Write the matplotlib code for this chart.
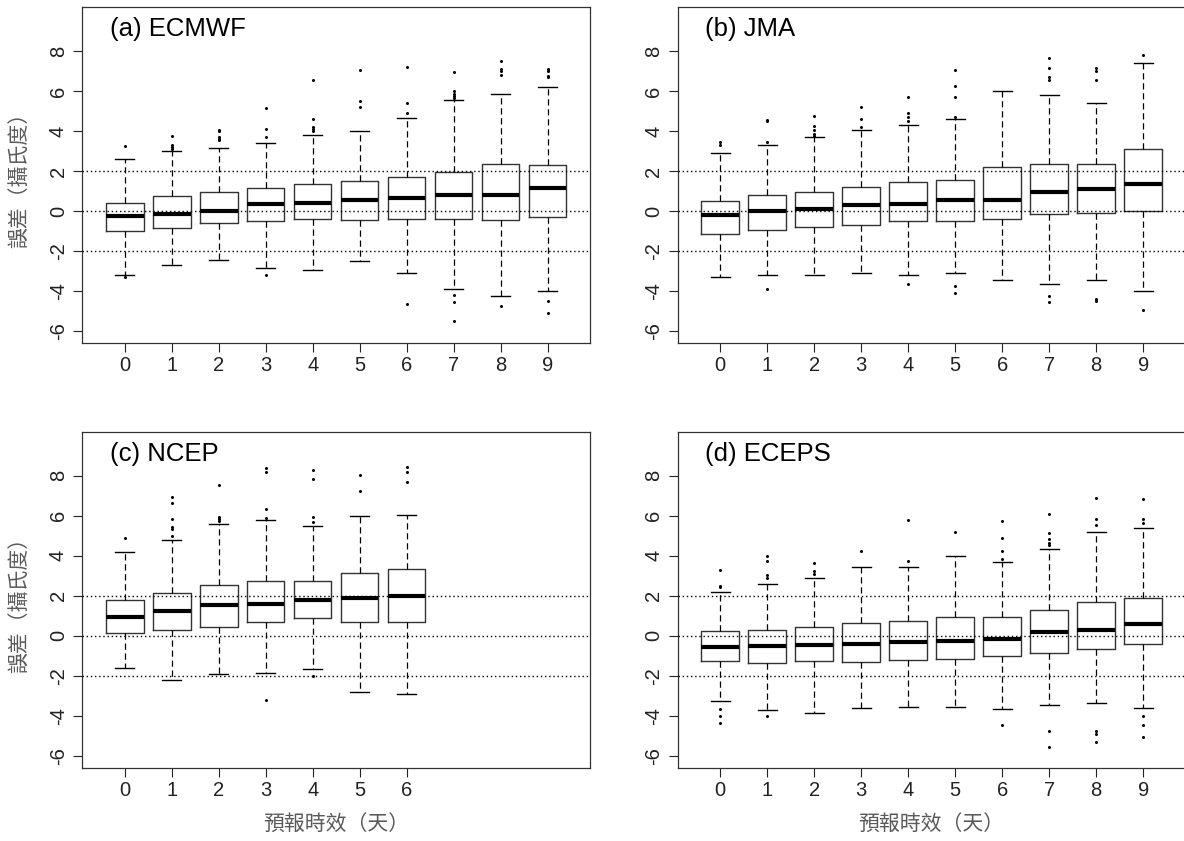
import matplotlib
matplotlib.use("Agg")
import matplotlib.pyplot as plt

plt.rcParams['font.family'] = ['Liberation Sans', 'Noto Sans CJK TC', 'DejaVu Sans']

# 預報時效（天）與 y 軸刻度
lead_days = [0, 1, 2, 3, 4, 5, 6, 7, 8, 9]
y_ticks = [-6, -4, -2, 0, 2, 4, 6, 8]
y_tick_labels = ['-6', '-4', '-2', '0', '2', '4', '6', '8']
ref_lines = [-2, 0, 2]

# (a) ECMWF
ecmwf_med = [-0.27, -0.17, 0.00, 0.33, 0.42, 0.53, 0.65, 0.82, 0.82, 1.17]
ecmwf_q1 = [-1.02, -0.83, -0.58, -0.48, -0.38, -0.43, -0.38, -0.38, -0.43, -0.32]
ecmwf_q3 = [0.40, 0.73, 0.95, 1.15, 1.33, 1.50, 1.70, 1.97, 2.35, 2.30]
ecmwf_lo = [-3.22, -2.68, -2.47, -2.83, -2.93, -2.52, -3.10, -3.92, -4.27, -4.02]
ecmwf_hi = [2.60, 3.00, 3.15, 3.42, 3.80, 4.00, 4.67, 5.57, 5.87, 6.22]
ecmwf_out = [[3.27, -3.30], [3.75, 3.33, 3.20, 3.10], [4.07, 4.00, 3.70, 3.62, 3.57],
             [5.18, 4.12, 3.73, -3.22], [6.57, 4.62, 4.20, 4.12, 4.03], [7.08, 5.53, 5.20],
             [7.23, 5.40, 4.90, -4.67], [6.95, 6.00, 5.88, 5.78, 5.65, -4.18, -4.55, -5.52],
             [7.53, 7.12, 7.00, 6.83, -4.77], [7.12, 7.00, 6.78, 6.70, -4.50, -5.10]]

# (b) JMA
jma_med = [-0.22, 0.00, 0.10, 0.32, 0.37, 0.53, 0.53, 0.97, 1.08, 1.35]
jma_q1 = [-1.13, -0.97, -0.82, -0.72, -0.48, -0.48, -0.38, -0.17, -0.10, 0.00]
jma_q3 = [0.52, 0.78, 0.95, 1.22, 1.43, 1.55, 2.20, 2.35, 2.35, 3.10]
jma_lo = [-3.32, -3.18, -3.18, -3.12, -3.18, -3.12, -3.43, -3.65, -3.43, -3.98]
jma_hi = [2.93, 3.30, 3.70, 4.07, 4.33, 4.60, 6.00, 5.82, 5.40, 7.40]
jma_out = [[3.48, 3.33], [4.57, 4.50, 3.48, -3.92], [4.75, 4.28, 4.07, 3.87, 3.78],
           [5.23, 4.62, 4.20], [5.70, 4.92, 4.73, 4.53, -3.67],
           [7.08, 6.25, 5.70, 4.70, -3.75, -4.08], [],
           [7.67, 7.17, 6.73, 6.57, -4.25, -4.55], [7.17, 7.00, 6.57, -4.38, -4.50],
           [7.82, -4.97]]

# (c) NCEP
ncep_med = [0.92, 1.25, 1.52, 1.58, 1.78, 1.88, 2.00]
ncep_q1 = [0.13, 0.28, 0.43, 0.70, 0.87, 0.70, 0.70]
ncep_q3 = [1.77, 2.13, 2.52, 2.72, 2.72, 3.12, 3.32]
ncep_lo = [-1.60, -2.23, -1.93, -1.87, -1.65, -2.83, -2.90]
ncep_hi = [4.17, 4.78, 5.57, 5.80, 5.47, 6.00, 6.03]
ncep_out = [[4.88], [6.92, 6.62, 5.83, 5.42, 5.33, 5.00], [7.55, 5.92, 5.83, 5.75],
            [8.37, 8.17, 6.33, 5.88, -3.20], [8.30, 7.82, 5.95, 5.67, -2.03],
            [8.03, 7.23], [8.42, 8.20, 7.67]]

# (d) ECEPS
eceps_med = [-0.58, -0.53, -0.47, -0.42, -0.30, -0.25, -0.15, 0.18, 0.28, 0.60]
eceps_q1 = [-1.25, -1.37, -1.25, -1.32, -1.20, -1.17, -1.02, -0.85, -0.68, -0.42]
eceps_q3 = [0.22, 0.27, 0.42, 0.63, 0.75, 0.92, 0.92, 1.28, 1.67, 1.87]
eceps_lo = [-3.25, -3.73, -3.85, -3.62, -3.57, -3.57, -3.68, -3.48, -3.37, -3.62]
eceps_hi = [2.20, 2.58, 2.90, 3.43, 3.43, 3.97, 3.70, 4.35, 5.20, 5.37]
eceps_out = [[3.27, 2.47, 2.42, -3.67, -4.03, -4.38], [4.00, 3.75, 3.03, 2.88, -4.00],
             [3.63, 3.25, 3.08], [4.23], [5.80, 3.75], [5.18],
             [5.75, 4.88, 4.23, 3.82, -4.47], [6.10, 5.15, 4.85, 4.63, 4.55, -4.75, -5.57],
             [6.90, 5.85, 5.52, -4.75, -4.92, -5.32], [6.85, 5.85, 5.63, -4.00, -4.47, -5.08]]

panels = [
    ('(a) ECMWF', ecmwf_med, ecmwf_q1, ecmwf_q3, ecmwf_lo, ecmwf_hi, ecmwf_out),
    ('(b) JMA', jma_med, jma_q1, jma_q3, jma_lo, jma_hi, jma_out),
    ('(c) NCEP', ncep_med, ncep_q1, ncep_q3, ncep_lo, ncep_hi, ncep_out),
    ('(d) ECEPS', eceps_med, eceps_q1, eceps_q3, eceps_lo, eceps_hi, eceps_out),
]

# 版面位置（圖寬 1184 px、高 841 px）
axes_pos = [
    [0.0696, 0.5922, 0.4287, 0.3992],
    [0.5726, 0.5922, 0.4287, 0.3992],
    [0.0696, 0.0872, 0.4287, 0.3995],
    [0.5726, 0.0872, 0.4287, 0.3995],
]

fig = plt.figure(figsize=(11.84, 8.41), dpi=100)
label_color = '#5a5a5a'

for i, (title, med, q1, q3, lo, hi, out) in enumerate(panels):
    ax = fig.add_axes(axes_pos[i])
    n = len(med)
    stats = []
    for k in range(n):
        stats.append({'med': med[k], 'q1': q1[k], 'q3': q3[k],
                      'whislo': lo[k], 'whishi': hi[k], 'fliers': out[k]})
    ax.bxp(stats, positions=lead_days[:n], widths=0.8, capwidths=0.4,
           showfliers=True, manage_ticks=False,
           boxprops=dict(color='#333333', linewidth=1.0),
           medianprops=dict(color='black', linewidth=3.0, solid_capstyle='butt'),
           whiskerprops=dict(color='black', linewidth=0.9, linestyle=(0, (5, 3))),
           capprops=dict(color='black', linewidth=1.0),
           flierprops=dict(marker='o', markersize=2.2, markerfacecolor='black',
                           markeredgecolor='none', linestyle='none'))

    for yv in ref_lines:
        ax.axhline(yv, color='black', linewidth=1.0, linestyle=(0, (1, 2)), zorder=5)

    ax.set_xlim(-0.9, 9.9)
    ax.set_ylim(-6.6, 10.2)
    ax.set_xticks(lead_days[:n])
    ax.set_xticklabels([str(d) for d in lead_days[:n]])
    ax.set_yticks(y_ticks)
    ax.set_yticklabels(y_tick_labels, rotation=90, va='center')
    ax.tick_params(direction='out', length=6.5, width=0.8, labelsize=14.5, colors='#222222')
    ax.tick_params(axis='x', pad=3)
    ax.tick_params(axis='y', pad=4)
    for sp in ax.spines.values():
        sp.set_linewidth(0.9)
        sp.set_color('#333333')

    ax.text(0.054, 0.914, title, transform=ax.transAxes, fontsize=18.5,
            va='baseline', ha='left', color='black')

    pos = axes_pos[i]
    if i in (0, 2):
        fig.text(19.5 / 1184, pos[1] + pos[3] / 2, '誤差（攝氏度）', rotation=90,
                 ha='center', va='center', fontsize=15, color=label_color)
    if i in (2, 3):
        fig.text(pos[0] + 507.6 / 1184 / 2, 1 - 824 / 841, '預報時效（天）',
                 ha='center', va='center', fontsize=15, color=label_color)

fig.savefig('out.png', dpi=100)
